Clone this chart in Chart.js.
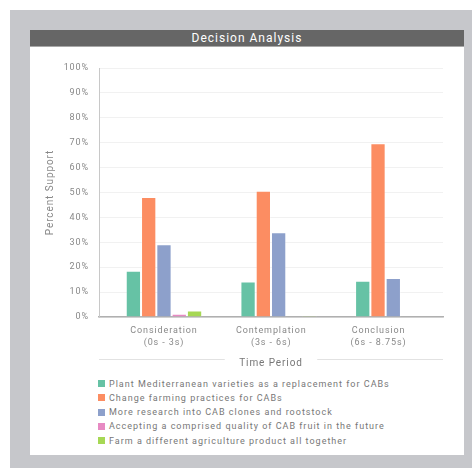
<!DOCTYPE html>
<html>
<head>
<meta charset="utf-8">
<script src="https://cdn.jsdelivr.net/npm/chart.js@4.4.1/dist/chart.umd.min.js"></script>
<style>
    html, body { margin: 0; padding: 0; background: #fff; }
    #frame {
        position: absolute; left: 10px; top: 10px;
        width: 462px; height: 458px; background: #c6c7cb;
    }
    #card {
        position: absolute; left: 20px; top: 20px;
        width: 434px; height: 425px; background: #fff;
        font-family: Roboto, sans-serif;
    }
    #card h1 {
        margin: 0; height: 16px; line-height: 16px;
        background: #666; border-bottom: 1px solid #a8a8a8;
        color: #fff; font-size: 12px; font-weight: 400;
        letter-spacing: 1px; text-align: center;
    }
    #decisionChart { display: block; }
    #legend {
        position: absolute; left: 68px; top: 346.5px;
        font-size: 9px; letter-spacing: 1px; color: #777;
    }
    #legend div { height: 14.25px; line-height: 14.25px; white-space: nowrap; }
    #legend span {
        display: inline-block; width: 7px; height: 7px;
        margin-right: 4px; vertical-align: -0.5px;
    }
</style>
</head>
<body>
<div id="frame">
    <div id="card">
        <h1>Decision Analysis</h1>
        <canvas id="decisionChart" width="434" height="328"></canvas>
        <div id="legend"></div>
    </div>
</div>
<script>
// Time periods along the x axis
const periods = ['Consideration', 'Contemplation', 'Conclusion'];
const periodRanges = ['(0s - 3s)', '(3s - 6s)', '(6s - 8.75s)'];

// Percent support per option, one value per period
const plantMediterranean = [18.6, 14.3, 14.6];
const changePractices = [48.2, 50.7, 69.8];
const moreResearch = [29.2, 34.0, 15.7];
const acceptQuality = [1.3, 0, 0];
const farmDifferent = [2.6, 0.5, 0];

const optionLabels = [
    'Plant Mediterranean varieties as a replacement for CABs',
    'Change farming practices for CABs',
    'More research into CAB clones and rootstock',
    'Accepting a comprised quality of CAB fruit in the future',
    'Farm a different agriculture product all together'
];
const optionColors = ['#66c2a5', '#fc8d62', '#8da0cb', '#e78ac3', '#a6d854'];
const optionValues = [plantMediterranean, changePractices, moreResearch, acceptQuality, farmDifferent];

const yTickStep = 10;
const yMax = 100;

const FONT = 'Roboto, sans-serif';
const TEXT_GRAY = '#888';

// canvas letterSpacing is reset whenever the canvas is resized
const spacingPlugin = {
    id: 'letterSpacing',
    beforeLayout(chart) { chart.ctx.letterSpacing = '0.9px'; },
    beforeDraw(chart) { chart.ctx.letterSpacing = '0.9px'; }
};

// thin rules either side of the x axis title
const titleRulesPlugin = {
    id: 'titleRules',
    afterDraw(chart) {
        const scale = chart.scales.xLabel;
        const area = chart.chartArea;
        const ctx = chart.ctx;
        const font = scale.options.title.font;
        ctx.save();
        ctx.font = `${font.size}px ${FONT}`;
        ctx.letterSpacing = '0.8px';
        const w = ctx.measureText(scale.options.title.text).width;
        const cx = (area.left + area.right) / 2;
        const y = Math.round(scale.bottom - 16) + 0.5;
        ctx.strokeStyle = '#e2e2e2';
        ctx.lineWidth = 1;
        ctx.beginPath();
        ctx.moveTo(area.left, y);
        ctx.lineTo(cx - w / 2 - 15, y);
        ctx.moveTo(cx + w / 2 + 15, y);
        ctx.lineTo(area.right, y);
        ctx.stroke();
        ctx.restore();
    }
};

const datasets = [
    // empty leading slot in each group
    { label: '', data: periods.map(() => null), backgroundColor: 'transparent' }
].concat(optionLabels.map((label, i) => ({
    label: label,
    data: optionValues[i],
    backgroundColor: optionColors[i],
    borderColor: 'rgba(255, 255, 255, 0.3)',
    borderWidth: 1
})));

const ctx = document.getElementById('decisionChart').getContext('2d');

new Chart(ctx, {
    type: 'bar',
    data: { labels: periods, datasets: datasets },
    plugins: [spacingPlugin, titleRulesPlugin],
    options: {
        responsive: false,
        animation: false,
        events: [],
        layout: { padding: { left: 0, right: 21, top: 21, bottom: 0 } },
        datasets: { bar: { categoryPercentage: 0.8, barPercentage: 1 } },
        plugins: { legend: { display: false }, tooltip: { enabled: false } },
        scales: {
            x: {
                weight: 0,
                grid: { display: false },
                border: { color: '#b0b0b0', width: 1.5 },
                ticks: { display: false },
                afterFit: s => { s.height = 0; }
            },
            // period labels sit on their own axis, a little closer together than the bar groups
            xLabel: {
                type: 'linear',
                position: 'bottom',
                weight: 1,
                offset: false,
                bounds: 'data',
                min: 0.394,
                max: 3.601,
                grid: { display: false, drawTicks: false, offset: false },
                border: { display: false },
                afterBuildTicks: s => { s.ticks = periods.map((p, i) => ({ value: i + 1 })); },
                ticks: {
                    autoSkip: false,
                    maxRotation: 0,
                    padding: 7,
                    color: TEXT_GRAY,
                    font: { family: FONT, size: 9, lineHeight: 1.41 },
                    callback: v => [periods[v - 1], periodRanges[v - 1]]
                },
                title: {
                    display: true,
                    text: 'Time Period',
                    color: '#777',
                    font: { family: FONT, size: 10 },
                    padding: { top: 0, bottom: 5.5 }
                },
                afterFit: s => { s.height = 58; }
            },
            y: {
                min: 0,
                max: yMax,
                grid: { color: '#f1f1f1', drawTicks: false },
                border: { color: '#c8c8c8', width: 1 },
                ticks: {
                    stepSize: yTickStep,
                    padding: 10,
                    color: TEXT_GRAY,
                    font: { family: FONT, size: 9 },
                    callback: v => v + '%'
                },
                title: {
                    display: true,
                    text: 'Percent Support',
                    color: TEXT_GRAY,
                    font: { family: FONT, size: 10 },
                    padding: { top: 14, bottom: 0 }
                },
                afterFit: s => { s.width = 69; }
            }
        }
    }
});

// legend rows below the chart
const legend = document.getElementById('legend');
optionLabels.forEach((label, i) => {
    const row = document.createElement('div');
    const swatch = document.createElement('span');
    swatch.style.background = optionColors[i];
    row.appendChild(swatch);
    row.appendChild(document.createTextNode(label));
    legend.appendChild(row);
});
</script>
</body>
</html>
